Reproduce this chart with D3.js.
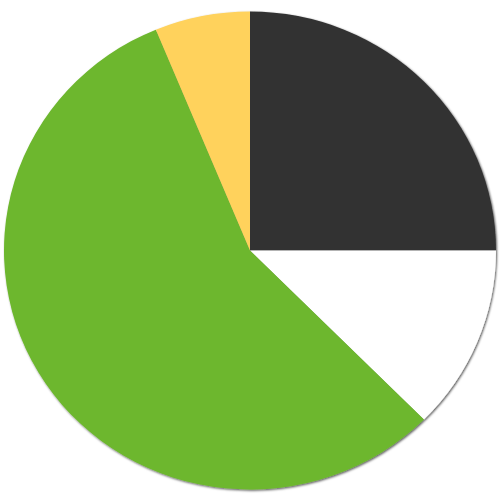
<!DOCTYPE html>
<html>
<head>
<meta charset="utf-8">
<script src="https://cdn.jsdelivr.net/npm/d3@7"></script>
<style>
  html, body { margin: 0; padding: 0; background: #fff; }
  svg { display: block; }
</style>
</head>
<body>
<div id="chart"></div>
<script>
// slices, clockwise from 12 o'clock
var labels = ["A", "B", "C", "D"];
var values = [4, 2, 9, 1];
var colors = ["#333333", "#ffffff", "#6db72e", "#ffd25c"];

var width = 500, height = 500,
    ry = 239, rx = 246;

var svg = d3.select("#chart").append("svg")
    .attr("width", width)
    .attr("height", height);

var defs = svg.append("defs");
var shadow = defs.append("filter")
    .attr("id", "shadow")
    .attr("x", "-5%").attr("y", "-5%")
    .attr("width", "110%").attr("height", "110%");
shadow.append("feDropShadow")
    .attr("dx", 1)
    .attr("dy", 1.2)
    .attr("stdDeviation", 0.9)
    .attr("flood-color", "#000")
    .attr("flood-opacity", 0.65);

var pie = d3.pie().sort(null).value(function(d) { return d; });
var arc = d3.arc().innerRadius(0).outerRadius(ry);

var g = svg.append("g")
    .attr("transform", "translate(250,250.5) scale(" + (rx / ry) + ",1)")
    .attr("filter", "url(#shadow)");

g.selectAll("path")
    .data(pie(values))
    .enter().append("path")
    .attr("d", arc)
    .attr("fill", function(d, i) { return colors[i]; })
    .append("title")
    .text(function(d, i) { return labels[i]; });
</script>
</body>
</html>
